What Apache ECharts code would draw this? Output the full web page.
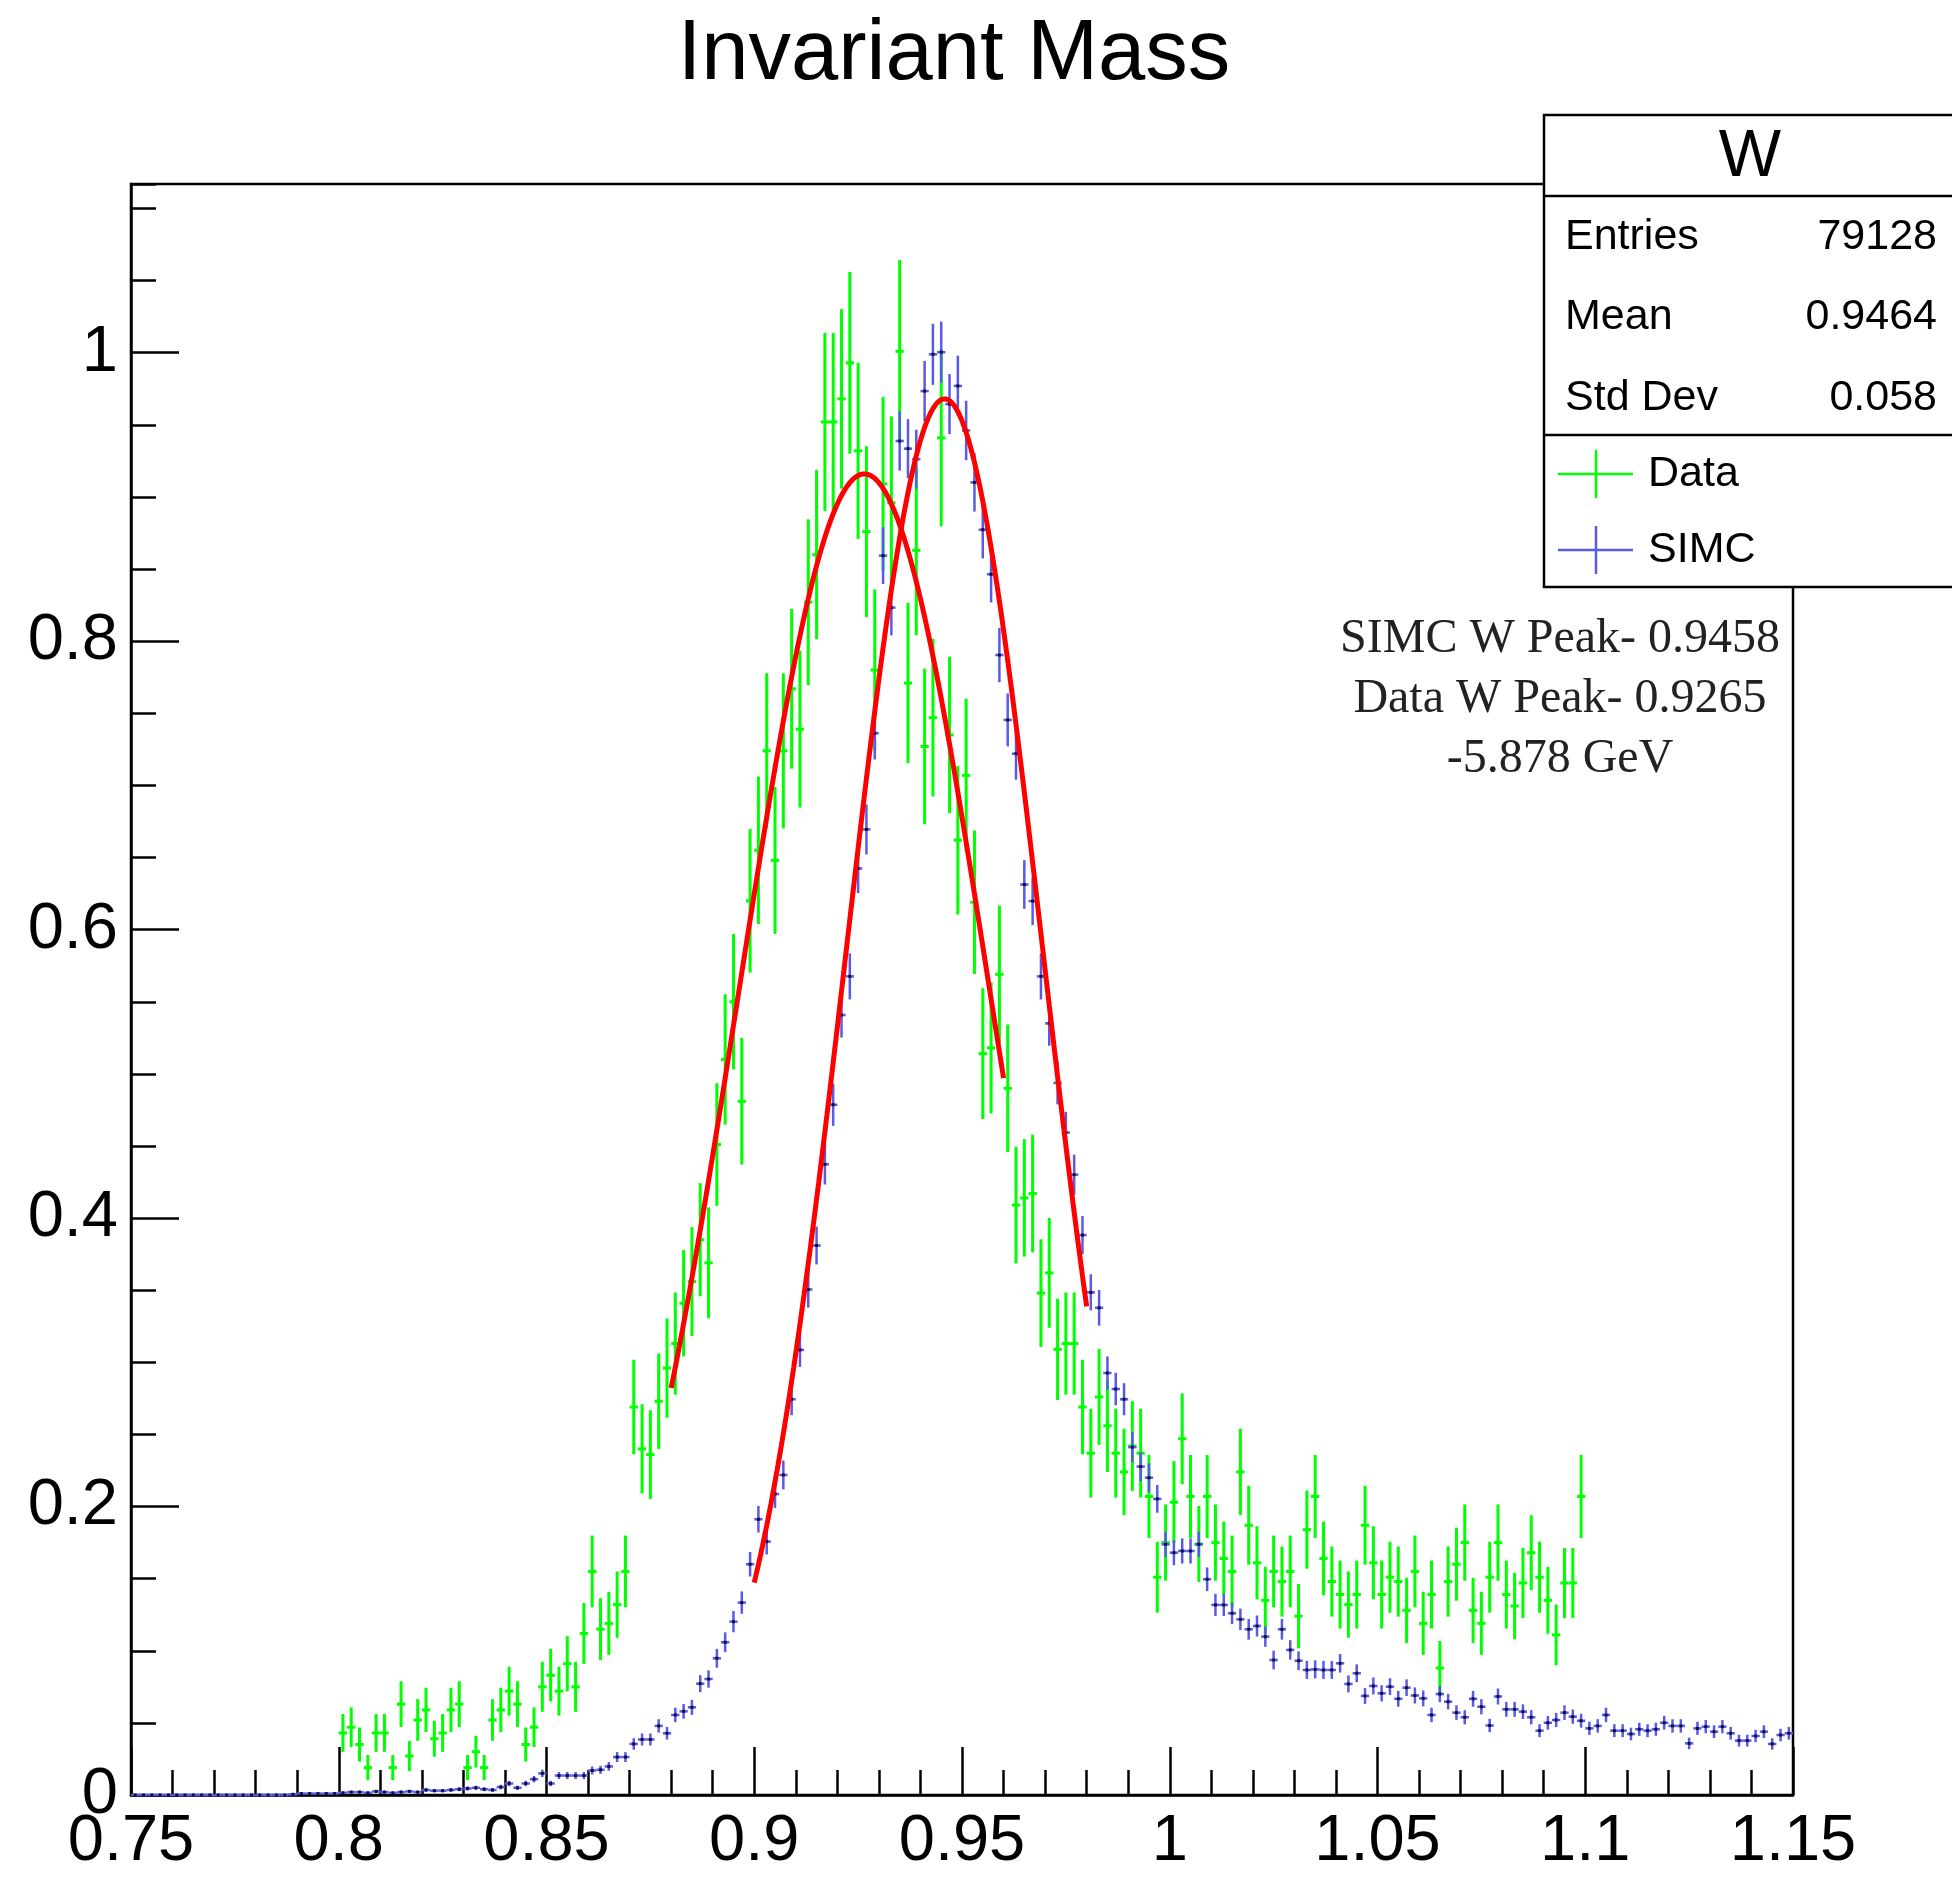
<!DOCTYPE html>
<html>
<head>
<meta charset="utf-8">
<script src="https://cdn.jsdelivr.net/npm/echarts/dist/echarts.min.js"></script>
<style>
html,body{margin:0;padding:0;background:#fff;}
#chart{width:1952px;height:1879px;}
</style>
</head>
<body>
<div id="chart"></div>
<script>
// ---------------- data ----------------
const X_MIN = 0.75, X_MAX = 1.15, Y_MIN = 0, Y_MAX = 1.117;
const BIN_WIDTH = 0.002;
const X_TICK_STEP = 0.05;
const Y_TICK_STEP = 0.2;

// "Data" histogram: first bin lower edge 0.800, bin width 0.002
const DATA_FIRST_EDGE = 0.800;
const dataValues = [
  0.043,0.047,0.035,0.019,0.043,0.043,0.019,0.063,0.027,0.052,
  0.059,0.039,0.043,0.059,0.063,0.019,0.030,0.019,0.052,0.059,
  0.072,0.063,0.035,0.047,0.075,0.083,0.072,0.091,0.075,0.112,
  0.155,0.115,0.119,0.132,0.155,0.269,0.240,0.236,0.273,0.296,
  0.313,0.341,0.356,0.385,0.369,0.451,0.510,0.550,0.481,0.620,
  0.655,0.724,0.648,0.724,0.767,0.739,0.827,0.860,0.952,0.952,
  0.968,0.993,0.932,0.876,0.780,0.909,0.896,1.001,0.771,0.863,
  0.727,0.747,0.941,0.735,0.662,0.707,0.619,0.514,0.518,0.569,
  0.490,0.409,0.414,0.417,0.348,0.362,0.309,0.313,0.313,0.269,
  0.237,0.276,0.256,0.237,0.224,0.242,0.237,0.207,0.151,0.175,
  0.203,0.247,0.207,0.174,0.207,0.175,0.164,0.155,0.224,0.187,
  0.161,0.135,0.155,0.148,0.155,0.124,0.184,0.207,0.164,0.148,
  0.139,0.132,0.139,0.187,0.161,0.139,0.151,0.148,0.128,0.155,
  0.119,0.139,0.088,0.148,0.160,0.175,0.128,0.119,0.151,0.175,
  0.139,0.131,0.147,0.168,0.151,0.135,0.111,0.147,0.147,0.207
];

// "SIMC" histogram: first bin lower edge 0.750, bin width 0.002
const SIMC_FIRST_EDGE = 0.750;
const simcValues = [
  0,0,0,0,0,0,0,0,0,0,
  0,0,0,0,0,0,0,0,0,0.0005,
  0.001,0.001,0.001,0.001,0.001,0.0015,0.002,0.002,0.0015,0.0025,
  0.002,0.0015,0.002,0.0025,0.002,0.0035,0.003,0.003,0.0035,0.004,
  0.0045,0.005,0.004,0.0035,0.0055,0.008,0.005,0.008,0.011,0.015,
  0.008,0.0135,0.0135,0.0135,0.0135,0.017,0.0175,0.0198,0.0263,0.0263,
  0.0354,0.0385,0.0385,0.0479,0.0428,0.0555,0.058,0.0608,0.0772,0.0804,
  0.0948,0.1059,0.1202,0.1334,0.160,0.1912,0.1757,0.2087,0.2219,0.2744,
  0.3086,0.3505,0.381,0.4373,0.4786,0.5408,0.5676,0.6424,0.6695,0.7362,
  0.8593,0.8233,0.9388,0.9335,0.9262,0.9734,0.9989,1.0004,0.9644,0.977,
  0.9461,0.9101,0.8773,0.8464,0.7904,0.7454,0.722,0.6313,0.6198,0.5676,
  0.535,0.4937,0.4593,0.4301,0.3882,0.3485,0.3378,0.2926,0.2815,0.2744,
  0.2412,0.2277,0.22,0.2053,0.1738,0.168,0.1692,0.1692,0.1738,0.1496,
  0.1318,0.1318,0.126,0.1218,0.1149,0.1172,0.1098,0.0936,0.1149,0.1006,
  0.0931,0.0867,0.0871,0.0867,0.0867,0.0913,0.077,0.0844,0.0687,0.0756,
  0.0705,0.0751,0.0667,0.0744,0.069,0.067,0.0555,0.07,0.0647,0.0571,
  0.0539,0.0667,0.0612,0.0482,0.0683,0.0594,0.0594,0.0578,0.0539,0.0446,
  0.0501,0.052,0.0571,0.0543,0.0515,0.0462,0.0479,0.0555,0.0446,0.0446,
  0.0423,0.0456,0.0446,0.0456,0.0501,0.0479,0.0479,0.0358,0.0462,0.0474,
  0.0439,0.0474,0.0428,0.0377,0.0377,0.0409,0.0439,0.0354,0.0416,0.0428
];

// Poisson-like error scale (err^2 = k * content)
const DATA_ERR_K = 0.004;
const SIMC_ERR_K = 0.00045;

// Gaussian fits (parameters)
const dataFit = { amplitude: 0.916, mean: 0.9265, sigma: 0.0303, from: 0.880, to: 0.960 };
const simcFit = { amplitude: 0.968, mean: 0.9458, sigma: 0.0236, from: 0.900, to: 0.980 };

const statsRows = [["Entries", "79128"], ["Mean", "0.9464"], ["Std Dev", "0.058"]];
const legendNames = ["Data", "SIMC"];
const noteLines = ["SIMC W Peak- 0.9458", "Data W Peak- 0.9265", "-5.878 GeV"];
const titleText = "Invariant Mass";
const statsTitle = "W";

// ---------------- build ----------------
const SANS = "'Liberation Sans', Arial, Helvetica, sans-serif";
const SERIF = "'Liberation Serif', 'Times New Roman', serif";
const GREEN = "#00ff00", BLUE = "#5a5ae8", RED = "#ff0000";

function histPoints(values, firstEdge, k) {
  return values.map((v, i) => {
    const x = +(firstEdge + BIN_WIDTH * (i + 0.5)).toFixed(4);
    return [x, v, Math.sqrt(k * v)];
  });
}
function fitPoints(f) {
  const pts = [];
  const n = 160;
  for (let j = 0; j <= n; j++) {
    const x = f.from + (f.to - f.from) * j / n;
    const d = x - f.mean;
    pts.push([x, f.amplitude * Math.exp(-d * d / (2 * f.sigma * f.sigma))]);
  }
  return pts;
}

function crossRenderer(color, width, dot) {
  return function (params, api) {
    const x = api.value(0), y = api.value(1), e = api.value(2);
    const pL = api.coord([x - BIN_WIDTH / 2, y]);
    const pR = api.coord([x + BIN_WIDTH / 2, y]);
    const pT = api.coord([x, Math.min(y + e, Y_MAX)]);
    const pB = api.coord([x, Math.max(y - e, 0)]);
    const children = [
      { type: 'line', shape: { x1: pL[0], y1: pL[1], x2: pR[0], y2: pR[1] },
        style: { stroke: color, lineWidth: width } },
      { type: 'line', shape: { x1: pT[0], y1: pT[1], x2: pB[0], y2: pB[1] },
        style: { stroke: color, lineWidth: width } }
    ];
    if (dot) {
      const c = api.coord([x, y]);
      children.push({ type: 'rect', shape: { x: c[0] - 1.5, y: c[1] - 1.5, width: 3, height: 3 },
        style: { fill: '#101040' } });
    }
    return { type: 'group', children: children };
  };
}

const axisLineStyle = { color: '#000', width: 2.5 };

const chart = echarts.init(document.getElementById('chart'), null, { renderer: 'canvas' });

const boxX = 1544, boxY = 115, boxW = 430, boxH = 472;
const graphics = [
  { type: 'text', z: 100, style: { text: titleText, x: 954, y: 56, font: '85px ' + SANS,
      fill: '#000', align: 'center', verticalAlign: 'middle', textAlign: 'center', textVerticalAlign: 'middle' } },
  { type: 'rect', z: 100, shape: { x: boxX, y: boxY, width: boxW, height: boxH },
    style: { fill: '#fff', stroke: '#000', lineWidth: 2.5 } },
  { type: 'line', z: 101, shape: { x1: boxX, y1: 196, x2: boxX + boxW, y2: 196 }, style: { stroke: '#000', lineWidth: 2.5 } },
  { type: 'line', z: 101, shape: { x1: boxX, y1: 435, x2: boxX + boxW, y2: 435 }, style: { stroke: '#000', lineWidth: 2.5 } },
  { type: 'text', z: 101, style: { text: statsTitle, x: 1750, y: 158, font: '66px ' + SANS, fill: '#000',
      align: 'center', verticalAlign: 'middle', textAlign: 'center', textVerticalAlign: 'middle' } }
];
const rowY = [237, 317, 398];
statsRows.forEach((r, k) => {
  graphics.push({ type: 'text', z: 101, style: { text: r[0], x: 1565, y: rowY[k], font: '43px ' + SANS, fill: '#000',
    align: 'left', verticalAlign: 'middle', textAlign: 'left', textVerticalAlign: 'middle' } });
  graphics.push({ type: 'text', z: 101, style: { text: r[1], x: 1937, y: rowY[k], font: '43px ' + SANS, fill: '#000',
    align: 'right', verticalAlign: 'middle', textAlign: 'right', textVerticalAlign: 'middle' } });
});
const legY = [474, 550];
const legColors = [GREEN, BLUE];
legendNames.forEach((name, k) => {
  const cy = legY[k];
  graphics.push({ type: 'line', z: 101, shape: { x1: 1558, y1: cy, x2: 1633, y2: cy }, style: { stroke: legColors[k], lineWidth: 2.5 } });
  graphics.push({ type: 'line', z: 101, shape: { x1: 1596, y1: cy - 24, x2: 1596, y2: cy + 24 }, style: { stroke: legColors[k], lineWidth: 2.5 } });
  graphics.push({ type: 'text', z: 101, style: { text: name, x: 1648, y: cy, font: '43px ' + SANS, fill: '#000',
    align: 'left', verticalAlign: 'middle', textAlign: 'left', textVerticalAlign: 'middle' } });
});
const noteY = [639, 699, 759];
noteLines.forEach((t, k) => {
  graphics.push({ type: 'text', z: 99, style: { text: t, x: 1560, y: noteY[k], font: '48px ' + SERIF, fill: '#222',
    align: 'center', verticalAlign: 'middle', textAlign: 'center', textVerticalAlign: 'middle' } });
});

const option = {
  animation: false,
  backgroundColor: '#fff',
  grid: { left: 131, top: 184, width: 1662, height: 1611, show: true, borderColor: '#000', borderWidth: 2.5,
          backgroundColor: 'transparent', containLabel: false },
  xAxis: {
    type: 'value', min: X_MIN, max: X_MAX, interval: X_TICK_STEP,
    axisLine: { show: true, onZero: false, lineStyle: axisLineStyle },
    axisTick: { show: true, inside: true, length: 48, lineStyle: axisLineStyle },
    minorTick: { show: true, splitNumber: 5, length: 25, lineStyle: axisLineStyle },
    splitLine: { show: false },
    axisLabel: { fontSize: 65, color: '#000', margin: 15, fontFamily: SANS, hideOverlap: false }
  },
  yAxis: [
    {
      type: 'value', min: Y_MIN, max: Y_MAX, interval: Y_TICK_STEP, position: 'left',
      axisLine: { show: true, onZero: false, lineStyle: axisLineStyle },
      axisTick: { show: true, inside: true, length: 48, lineStyle: axisLineStyle },
      splitLine: { show: false },
      axisLabel: { fontSize: 65, color: '#000', margin: 13, fontFamily: SANS, showMaxLabel: false,
                   formatter: v => (Math.abs(v / Y_TICK_STEP - Math.round(v / Y_TICK_STEP)) < 1e-6 ? String(+v.toFixed(2)) : '') }
    },
    {
      type: 'value', min: Y_MIN, max: Y_MAX, interval: 0.05, position: 'left', offset: 0,
      axisLine: { show: false },
      axisTick: { show: true, inside: true, length: 25, lineStyle: axisLineStyle },
      splitLine: { show: false },
      axisLabel: { show: false }
    }
  ],
  graphic: { elements: graphics },
  series: [
    { name: 'Data', type: 'custom', z: 3, renderItem: crossRenderer(GREEN, 3, false),
      encode: { x: 0, y: 1 }, data: histPoints(dataValues, DATA_FIRST_EDGE, DATA_ERR_K) },
    { name: 'SIMC', type: 'custom', z: 4, renderItem: crossRenderer(BLUE, 2.5, true),
      encode: { x: 0, y: 1 }, data: histPoints(simcValues, SIMC_FIRST_EDGE, SIMC_ERR_K) },
    { name: 'Data fit', type: 'line', z: 5, showSymbol: false, smooth: false,
      lineStyle: { color: RED, width: 5 }, data: fitPoints(dataFit) },
    { name: 'SIMC fit', type: 'line', z: 5, showSymbol: false, smooth: false,
      lineStyle: { color: RED, width: 5 }, data: fitPoints(simcFit) }
  ]
};
chart.setOption(option);
</script>
</body>
</html>
